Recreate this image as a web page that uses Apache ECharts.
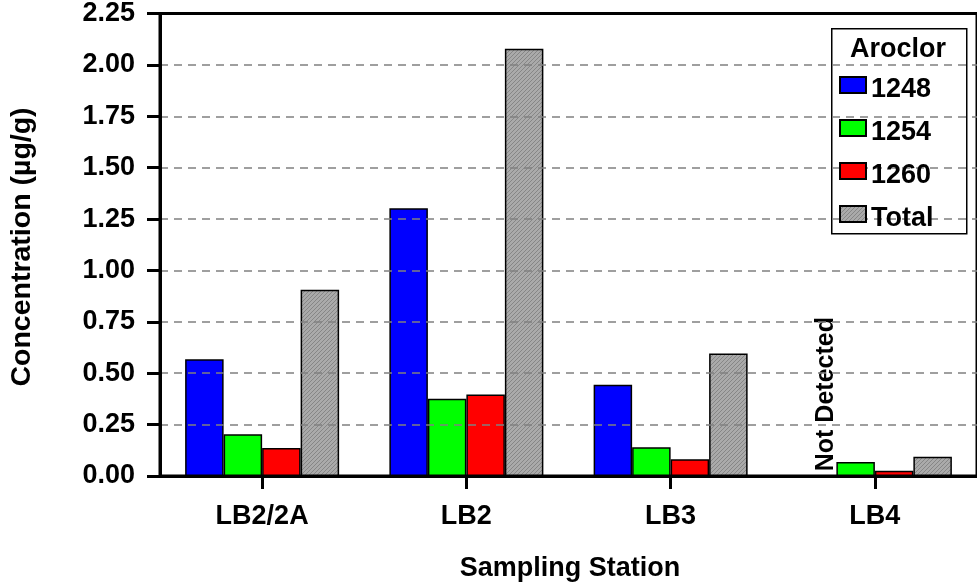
<!DOCTYPE html>
<html>
<head>
<meta charset="utf-8">
<script src="https://cdn.jsdelivr.net/npm/echarts@6/dist/echarts.min.js"></script>
<style>html,body{margin:0;padding:0;background:#fff}#c{width:977px;height:588px}</style>
</head>
<body>
<div id="c"></div>
<script>
const categories = ['LB2/2A', 'LB2', 'LB3', 'LB4'];
const seriesNames = ['1248', '1254', '1260', 'Total'];
const aroclor1248 = [0.568, 1.303, 0.444, 0];
const aroclor1254 = [0.203, 0.376, 0.140, 0.068];
const aroclor1260 = [0.136, 0.396, 0.081, 0.026];
const aroclorTotal = [0.906, 2.078, 0.596, 0.094];
const yTicks = [0, 0.25, 0.5, 0.75, 1.0, 1.25, 1.5, 1.75, 2.0, 2.25];
const notDetectedIndex = 3;

const FONT = '"Liberation Sans", Arial, sans-serif';

// hatch pattern for Total
const pc = document.createElement('canvas');
pc.width = 4; pc.height = 4;
const pctx = pc.getContext('2d');
pctx.fillStyle = '#aaaaaa';
pctx.fillRect(0, 0, 4, 4);
pctx.fillStyle = '#868686';
for (let i = 0; i < 4; i++) { pctx.fillRect(i, 3 - i, 1, 1); }
const hatch = { image: pc, repeat: 'repeat' };

const chart = echarts.init(document.getElementById('c'), null, { renderer: 'canvas' });

const barBase = {
  type: 'bar',
  barWidth: 38.5,
  barGap: '0%'
};

const blueData = aroclor1248.map((v, i) => i === notDetectedIndex ? {
  value: v,
  label: {
    show: true, formatter: 'Not Detected', position: 'top', rotate: 90,
    align: 'left', verticalAlign: 'middle', distance: 4, offset: [0, 9],
    color: '#000', fontFamily: FONT, fontWeight: 'bold', fontSize: 25
  }
} : v);

chart.setOption({
  animation: false,
  textStyle: { fontFamily: FONT },
  grid: {
    left: 160, top: 11.5, bottom: 112, right: -6,
    show: true, borderColor: '#000', borderWidth: 3, backgroundColor: 'transparent', z: 1
  },
  legend: {
    orient: 'vertical',
    left: 839, top: 76, z: 10, padding: 0,
    itemWidth: 26, itemHeight: 16, itemGap: 15.5,
    icon: 'rect',
    data: seriesNames,
    formatter: '{a|{name}}',
    textStyle: {
      fontFamily: FONT, fontWeight: 'bold', fontSize: 27, color: '#000',
      rich: { a: { fontFamily: FONT, fontWeight: 'bold', fontSize: 27, color: '#000', padding: [10, 0, 0, 0] } }
    },
    selectedMode: false
  },
  graphic: [
    { type: 'rect', left: 831, top: 28, z: 3,
      shape: { width: 135, height: 205 },
      style: { fill: '#fff', stroke: '#000', lineWidth: 1.5 } },
    { type: 'text', z: 10, x: 898, y: 50,
      style: { text: 'Aroclor', fontFamily: FONT, fontWeight: 'bold', fontSize: 27, fill: '#000', textAlign: 'center', textVerticalAlign: 'middle' } },
    { type: 'text', z: 10, x: 570, y: 569,
      style: { text: 'Sampling Station', fontFamily: FONT, fontWeight: 'bold', fontSize: 27, fill: '#000', textAlign: 'center', textVerticalAlign: 'middle' } },
    { type: 'text', z: 10, x: 22, y: 247, rotation: Math.PI / 2,
      style: { text: 'Concentration (µg/g)', fontFamily: FONT, fontWeight: 'bold', fontSize: 28.5, fill: '#000', textAlign: 'center', textVerticalAlign: 'middle' } }
  ],
  xAxis: {
    type: 'category',
    data: categories,
    boundaryGap: true,
    z: 5,
    axisLine: { show: true, lineStyle: { color: '#000', width: 3 } },
    axisTick: { show: true, alignWithLabel: true, length: 13, lineStyle: { color: '#000', width: 3 } },
    axisLabel: { margin: 27, color: '#000', fontFamily: FONT, fontWeight: 'bold', fontSize: 27 },
    splitLine: { show: false }
  },
  yAxis: {
    type: 'value',
    min: 0, max: 2.25, interval: 0.25,
    z: 5,
    axisLine: { show: true, lineStyle: { color: '#000', width: 3 } },
    axisTick: { show: true, length: 13, lineStyle: { color: '#000', width: 3 } },
    axisLabel: {
      margin: 25, color: '#000', fontFamily: FONT, fontWeight: 'bold', fontSize: 27,
      padding: [8, 0, 0, 0],
      formatter: v => { const t = yTicks.find(x => Math.abs(x - v) < 1e-6); return (t !== undefined ? t : v).toFixed(2); }
    },
    splitLine: { show: true, showMinLine: false, showMaxLine: false, lineStyle: { color: '#808080', width: 1.5, type: [8, 6] } }
  },
  series: [
    Object.assign({}, barBase, { name: seriesNames[0], data: blueData, itemStyle: { color: '#0000ff', borderColor: '#000', borderWidth: 1.5 } }),
    Object.assign({}, barBase, { name: seriesNames[1], data: aroclor1254, itemStyle: { color: '#00ff00', borderColor: '#000', borderWidth: 1.5 } }),
    Object.assign({}, barBase, { name: seriesNames[2], data: aroclor1260, itemStyle: { color: '#ff0000', borderColor: '#000', borderWidth: 1.5 } }),
    Object.assign({}, barBase, { name: seriesNames[3], data: aroclorTotal, itemStyle: { color: hatch, borderColor: '#000', borderWidth: 1.5 } })
  ]
});
</script>
</body>
</html>
